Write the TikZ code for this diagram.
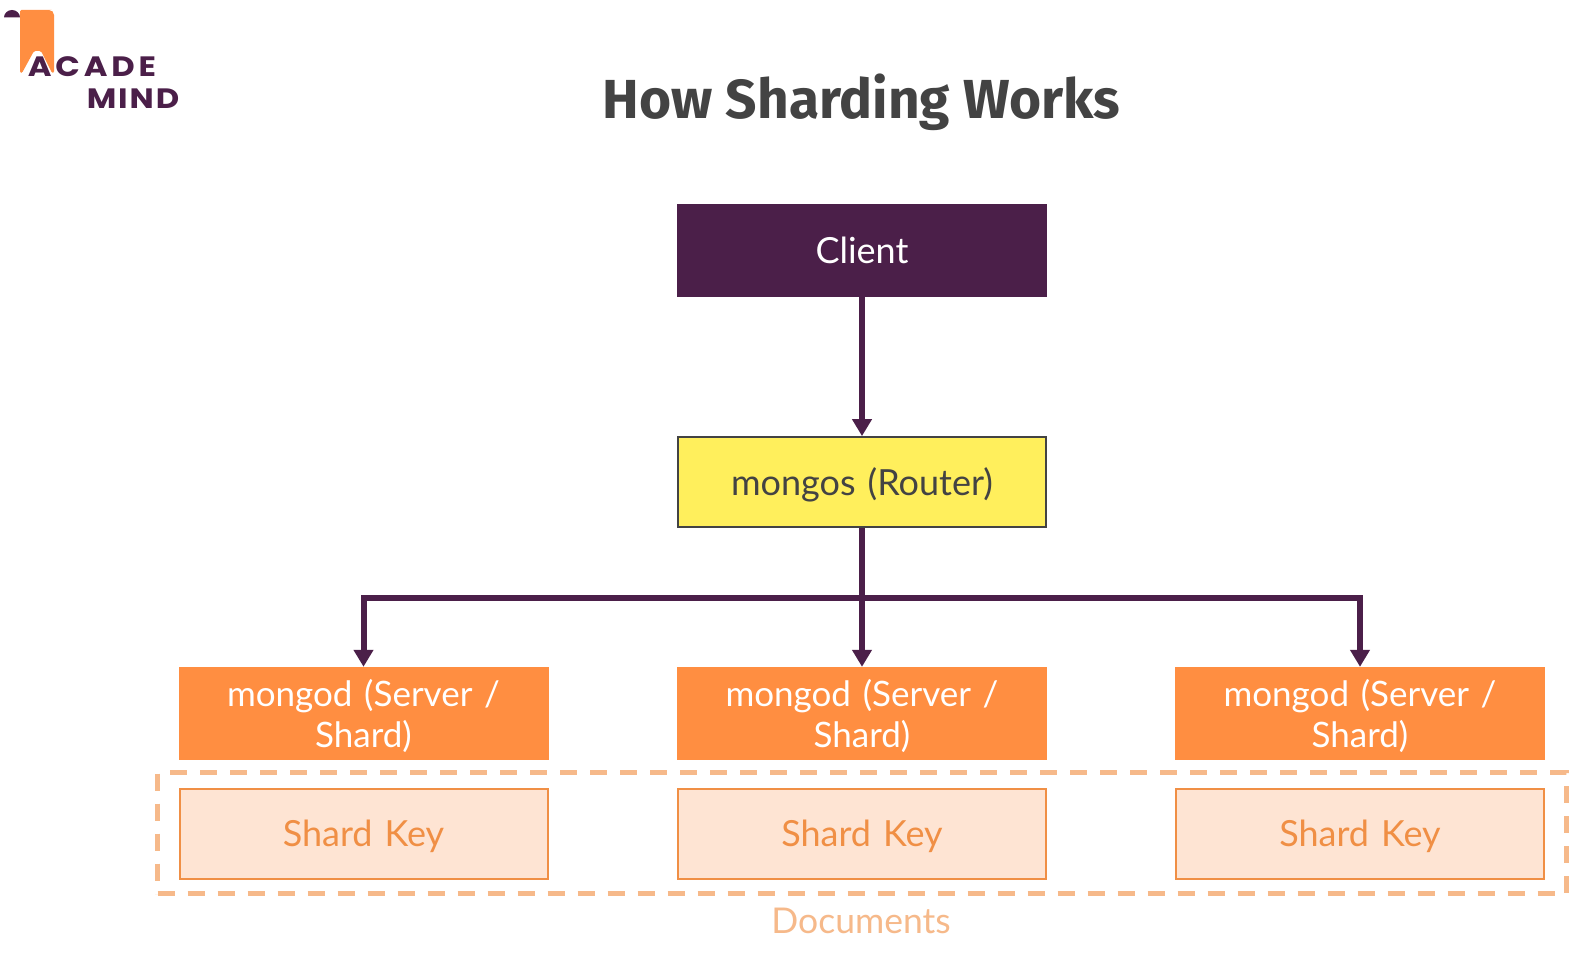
\documentclass[tikz,border=0pt]{standalone}
\usepackage{fontspec}
\setmainfont{Lato}
\newfontfamily\titlefont{Fira Sans}
\newfontfamily\logofont{Poppins}
\usetikzlibrary{arrows.meta}
\definecolor{plum}{HTML}{4B1F49}
\definecolor{orangeb}{HTML}{FF8E41}
\definecolor{yellowb}{HTML}{FFEF5C}
\definecolor{peach}{HTML}{FEE4D3}
\definecolor{keyline}{HTML}{F08F45}
\definecolor{dashline}{HTML}{F6B98A}
\definecolor{darkt}{HTML}{434343}
\newcommand{\lowered}[1]{\raisebox{-2.5pt}[\height][\depth]{#1}}
\tikzset{
 x=1pt,y=-1pt,
 box/.style={minimum width=370pt,minimum height=92pt,inner sep=0pt,align=center,font=\fontsize{36}{41}\selectfont,text width=340pt},
 clientbox/.style={box,fill=plum,text=white,minimum height=93pt},
 routerbox/.style={box,fill=yellowb,draw=darkt,line width=1.8pt,text=darkt,minimum width=368pt,minimum height=90pt},
 shardbox/.style={box,fill=orangeb,text=white,minimum height=93pt,font=\fontsize{35}{41}\selectfont},
 keybox/.style={box,fill=peach,draw=keyline,line width=2pt,text=keyline,minimum width=368pt,minimum height=90pt},
 conn/.style={draw=plum,line width=6pt,-{Triangle[length=17pt,width=19pt]}},
 docbox/.style={draw=dashline,line width=4.5pt,dash pattern=on 17pt off 13pt,minimum width=1409pt,minimum height=121pt,inner sep=0pt},
 logotext/.style={text=plum,font=\logofont\bfseries\fontsize{28}{28}\selectfont,inner sep=0pt,transform shape,xscale=1.15}
}
\begin{document}
\begin{tikzpicture}
\useasboundingbox (0,0) rectangle (1595,955);
\fill[white] (0,0) rectangle (1595,955);
% logo
\fill[orangeb,rounded corners=1.5pt] (20,10) -- (50,10) to[rounded corners=5pt] (54,10) -- (54,73) -- (52,73) -- (41,51) -- (34,51) -- (22,73) -- (20,73) -- cycle;
\fill[plum] (4,17.5) arc[start angle=180,end angle=0,x radius=8pt,y radius=7.5pt] -- cycle;
\node[logotext] (logoa) at (92,67) {\addfontfeature{LetterSpace=12}ACADE};
\node[logotext] (logob) at (133,98.5) {\addfontfeature{LetterSpace=6}MIND};
% title
\node (title) at (861.5,102) [text=darkt,font=\titlefont\bfseries\fontsize{55}{60}\selectfont,inner sep=0pt] {How Sharding Works};
% boxes
\node[clientbox] (client) at (862,250.5) {Client};
\node[routerbox] (router) at (862,482) {\lowered{mongos (Router)}};
\node[shardbox] (s1) at (363.5,713.5) {\lowered{mongod (Server /}\\\lowered{Shard)}};
\node[shardbox] (s2) at (862,713.5) {\lowered{mongod (Server /}\\\lowered{Shard)}};
\node[shardbox] (s3) at (1360,713.5) {\lowered{mongod (Server /}\\\lowered{Shard)}};
\node[docbox] (docs) at (862,833) {};
\node[keybox] (k1) at (363.5,833.5) {\lowered{Shard Key}};
\node[keybox] (k2) at (862,833.5) {\lowered{Shard Key}};
\node[keybox] (k3) at (1360,833.5) {\lowered{Shard Key}};
\node (doclabel) at (861,921) [text=dashline,font=\fontsize{35.5}{40}\selectfont,inner sep=0pt] {Documents};
% connectors
\draw[conn] (client) -- (router);
\draw[conn] (router) -- (s2);
\coordinate (mid) at (862,597.5);
\draw[conn] (mid) -| (s1.north);
\draw[conn] (mid) -| (s3.north);
\end{tikzpicture}
\end{document}
